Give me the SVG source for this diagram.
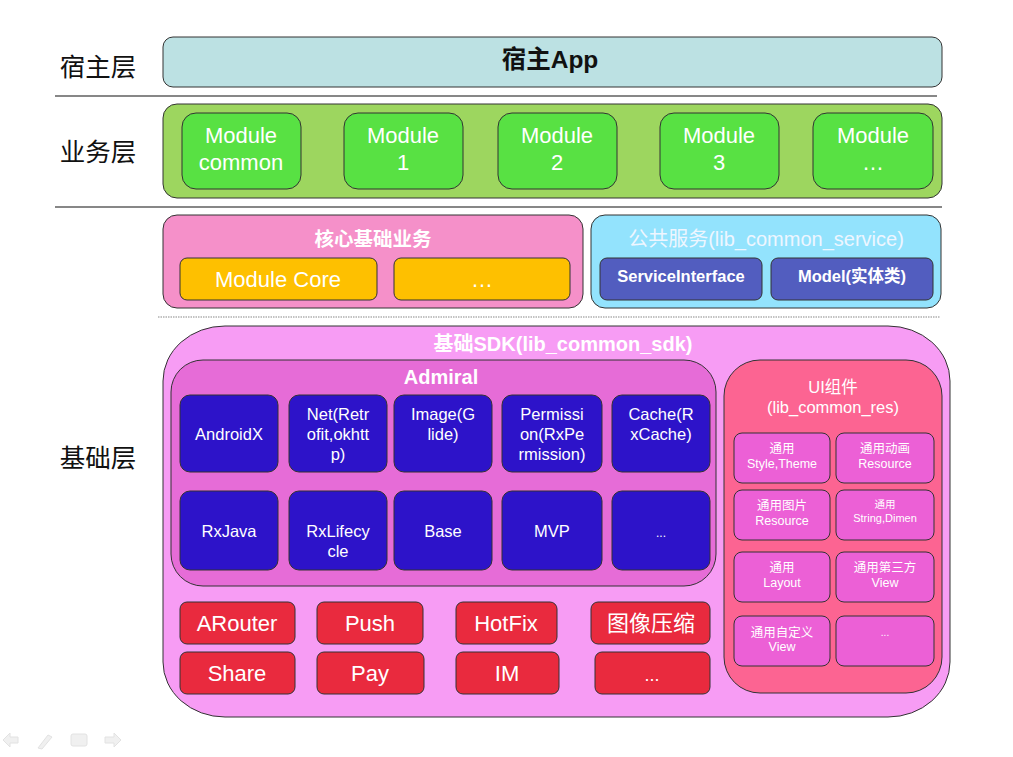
<svg xmlns="http://www.w3.org/2000/svg" width="1013" height="757" viewBox="0 0 1013 757">
<style>
.b{stroke:#333;stroke-width:1}
.t{font-family:"Liberation Sans","Noto Sans CJK SC",sans-serif;fill:#fff;text-anchor:middle}
.lbl{font-family:"Noto Sans CJK SC",serif;font-size:25.5px;fill:#111;text-anchor:middle}
.mod{fill:#58e143}
.adm{fill:#2d13c9}
.ui{fill:#ec60d6}
.red{fill:#e92a3e}
.m22{font-size:22px}
.m15{font-size:16.5px}
.m12{font-size:12.5px}
.bold{font-weight:bold}
</style>
<rect width="1013" height="757" fill="#fff"/>
<g id="layer-labels">
<text class="lbl" x="98" y="76">宿主层</text>
<text class="lbl" x="98" y="161">业务层</text>
<text class="lbl" x="98" y="467">基础层</text>
</g>
<g id="separators" stroke="#111" stroke-width="1.2">
<line x1="55" y1="96" x2="937" y2="96"/>
<line x1="55" y1="207" x2="942" y2="207"/>
<line x1="158" y1="317" x2="940" y2="317" stroke="#888" stroke-dasharray="1.5,1"/>
</g>
<g id="host">
<rect class="b" x="163" y="37" width="779" height="50" rx="10" fill="#bce1e3"/>
<text class="t bold" x="550" y="68" font-size="24.5" style="fill:#111">宿主App</text>
</g>
<g id="business">
<rect class="b" x="163" y="104" width="779" height="94" rx="14" fill="#9dd65f"/>
<g id="module-common"><rect class="b mod" x="182" y="113" width="119" height="76" rx="14"/><text class="t m22" x="241" y="143">Module</text><text class="t m22" x="241" y="170">common</text></g>
<g id="module-1"><rect class="b mod" x="344" y="113" width="119" height="76" rx="14"/><text class="t m22" x="403" y="143">Module</text><text class="t m22" x="403" y="170">1</text></g>
<g id="module-2"><rect class="b mod" x="498" y="113" width="119" height="76" rx="14"/><text class="t m22" x="557" y="143">Module</text><text class="t m22" x="557" y="170">2</text></g>
<g id="module-3"><rect class="b mod" x="660" y="113" width="119" height="76" rx="14"/><text class="t m22" x="719" y="143">Module</text><text class="t m22" x="719" y="170">3</text></g>
<g id="module-more"><rect class="b mod" x="813" y="113" width="120" height="76" rx="14"/><text class="t m22" x="873" y="143">Module</text><text class="t m22" x="873" y="170">…</text></g>
</g>
<g id="core">
<rect class="b" x="163" y="215" width="420" height="93" rx="14" fill="#f590c9"/>
<text class="t bold" x="373" y="246" font-size="19.5">核心基础业务</text>
<g id="module-core"><rect class="b" x="180" y="258" width="197" height="42" rx="7" fill="#fec000"/><text class="t m22" x="278" y="287">Module Core</text></g>
<g id="core-more"><rect class="b" x="394" y="258" width="176" height="42" rx="7" fill="#fec000"/><text class="t m22" x="482" y="287">…</text></g>
</g>
<g id="service">
<rect class="b" x="591" y="215" width="350" height="93" rx="14" fill="#93e3fd"/>
<text class="t" x="766" y="246" font-size="20" style="fill:#eef6ff">公共服务(lib_common_service)</text>
<g id="service-interface"><rect class="b" x="600" y="258" width="162" height="42" rx="7" fill="#525dbf"/><text class="t bold" x="681" y="282" font-size="16.5">ServiceInterface</text></g>
<g id="model"><rect class="b" x="771" y="258" width="162" height="42" rx="7" fill="#525dbf"/><text class="t bold" x="852" y="282" font-size="16.5">Model(实体类)</text></g>
</g>
<g id="sdk">
<rect class="b" x="163" y="326" width="787" height="391" rx="62" ry="55" fill="#f79cf4"/>
<text class="t bold" x="563" y="351" font-size="20">基础SDK(lib_common_sdk)</text>
</g>
<g id="admiral">
<rect class="b" x="171" y="360" width="545" height="226" rx="32" fill="#e66cd7"/>
<text class="t bold" x="441" y="384" font-size="20">Admiral</text>
<g id="androidx"><rect class="b adm" x="180" y="395" width="98" height="77" rx="10"/><text class="t m15" x="229" y="440">AndroidX</text></g>
<g id="net"><rect class="b adm" x="289" y="395" width="98" height="77" rx="10"/><text class="t m15" x="338" y="420">Net(Retr</text><text class="t m15" x="338" y="440">ofit,okhtt</text><text class="t m15" x="338" y="460">p)</text></g>
<g id="image"><rect class="b adm" x="394" y="395" width="98" height="77" rx="10"/><text class="t m15" x="443" y="420">Image(G</text><text class="t m15" x="443" y="440">lide)</text></g>
<g id="permission"><rect class="b adm" x="502" y="395" width="100" height="77" rx="10"/><text class="t m15" x="552" y="420">Permissi</text><text class="t m15" x="552" y="440">on(RxPe</text><text class="t m15" x="552" y="460">rmission)</text></g>
<g id="cache"><rect class="b adm" x="612" y="395" width="98" height="77" rx="10"/><text class="t m15" x="661" y="420">Cache(R</text><text class="t m15" x="661" y="440">xCache)</text></g>
<g id="rxjava"><rect class="b adm" x="180" y="491" width="98" height="79" rx="10"/><text class="t m15" x="229" y="537">RxJava</text></g>
<g id="rxlifecycle"><rect class="b adm" x="289" y="491" width="98" height="79" rx="10"/><text class="t m15" x="338" y="537">RxLifecy</text><text class="t m15" x="338" y="557">cle</text></g>
<g id="base"><rect class="b adm" x="394" y="491" width="98" height="79" rx="10"/><text class="t m15" x="443" y="537">Base</text></g>
<g id="mvp"><rect class="b adm" x="502" y="491" width="100" height="79" rx="10"/><text class="t m15" x="552" y="537">MVP</text></g>
<g id="admiral-more"><rect class="b adm" x="612" y="491" width="98" height="79" rx="10"/><text class="t" x="661" y="537" font-size="12">...</text></g>
</g>
<g id="ui">
<rect class="b" x="724" y="360" width="218" height="333" rx="36" fill="#fc6492"/>
<text class="t" x="833" y="393" font-size="16.5">UI组件</text>
<text class="t" x="833" y="413" font-size="16.5">(lib_common_res)</text>
<g id="ui-style"><rect class="b ui" x="734" y="433" width="96" height="50" rx="8"/><text class="t m12" x="782" y="453">通用</text><text class="t m12" x="782" y="468">Style,Theme</text></g>
<g id="ui-anim"><rect class="b ui" x="836" y="433" width="98" height="50" rx="8"/><text class="t m12" x="885" y="453">通用动画</text><text class="t m12" x="885" y="468">Resource</text></g>
<g id="ui-image"><rect class="b ui" x="734" y="490" width="96" height="50" rx="8"/><text class="t m12" x="782" y="510">通用图片</text><text class="t m12" x="782" y="525">Resource</text></g>
<g id="ui-string"><rect class="b ui" x="836" y="490" width="98" height="50" rx="8"/><text class="t" x="885" y="508" font-size="10.5">通用</text><text class="t" x="885" y="522" font-size="11">String,Dimen</text></g>
<g id="ui-layout"><rect class="b ui" x="734" y="552" width="96" height="50" rx="8"/><text class="t m12" x="782" y="572">通用</text><text class="t m12" x="782" y="587">Layout</text></g>
<g id="ui-thirdview"><rect class="b ui" x="836" y="552" width="98" height="50" rx="8"/><text class="t m12" x="885" y="572">通用第三方</text><text class="t m12" x="885" y="587">View</text></g>
<g id="ui-customview"><rect class="b ui" x="734" y="616" width="96" height="50" rx="8"/><text class="t m12" x="782" y="637">通用自定义</text><text class="t m12" x="782" y="651">View</text></g>
<g id="ui-more"><rect class="b ui" x="836" y="616" width="98" height="50" rx="8"/><text class="t" x="885" y="636" font-size="10">...</text></g>
</g>
<g id="libs">
<g id="arouter"><rect class="b red" x="180" y="602" width="115" height="42" rx="7"/><text class="t m22" x="237" y="631">ARouter</text></g>
<g id="push"><rect class="b red" x="317" y="602" width="106" height="42" rx="7"/><text class="t m22" x="370" y="631">Push</text></g>
<g id="hotfix"><rect class="b red" x="456" y="602" width="101" height="42" rx="7"/><text class="t m22" x="506" y="631">HotFix</text></g>
<g id="compress"><rect class="b red" x="591" y="602" width="119" height="42" rx="7"/><text class="t m22" x="651" y="631">图像压缩</text></g>
<g id="share"><rect class="b red" x="180" y="652" width="115" height="42" rx="7"/><text class="t m22" x="237" y="681">Share</text></g>
<g id="pay"><rect class="b red" x="317" y="652" width="107" height="42" rx="7"/><text class="t m22" x="370" y="681">Pay</text></g>
<g id="im"><rect class="b red" x="456" y="652" width="103" height="42" rx="7"/><text class="t m22" x="507" y="681">IM</text></g>
<g id="libs-more"><rect class="b red" x="595" y="652" width="115" height="42" rx="7"/><text class="t" x="652" y="681" font-size="18">...</text></g>
</g>
<g id="slide-controls" fill="#f0f0f0" stroke="#e2e2e2" stroke-width="1">
<path d="M3 740 L10 733 L10 737 L18 737 L18 743 L10 743 L10 747 Z"/>
<path d="M38 748 L48 735 L52 737 L42 749 Z"/>
<rect x="71" y="734" width="16" height="12" rx="2"/>
<path d="M121 740 L114 733 L114 737 L105 737 L105 743 L114 743 L114 747 Z"/>
</g>
</svg>
